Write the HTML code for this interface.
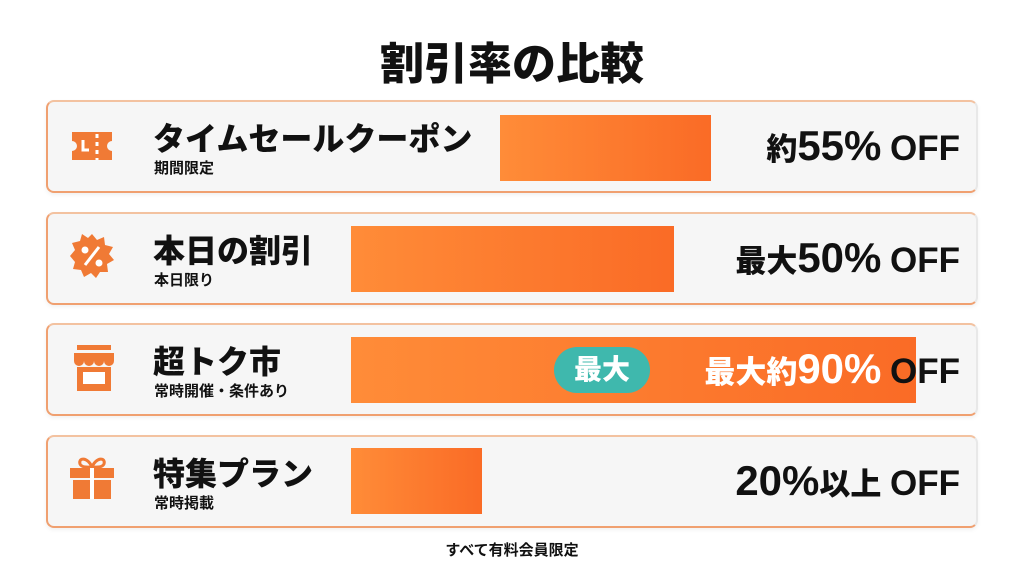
<!DOCTYPE html>
<html><head><meta charset="utf-8"><style>
body{margin:0;width:1024px;height:572px;background:#fff;font-family:"Liberation Sans","Noto Sans CJK JP",sans-serif;position:relative;overflow:hidden}
.t{position:absolute;left:0;width:1024px;top:28px;text-align:center;font-size:44px;font-weight:900;color:#111}
.card{position:absolute;left:46px;width:928px;height:89px;background:#f6f6f6;border:2px solid #f0a070;border-top-color:#f3c2a0;border-right-color:#e8e8e8;border-radius:8px;box-shadow:0 2px 4px rgba(0,0,0,.06)}
.bar{position:absolute;background:linear-gradient(90deg,#ff8c38,#fa6b26)}
.n{position:absolute;left:105px;top:12px;font-size:32px;font-weight:900;color:#111;white-space:nowrap}
.s{position:absolute;left:106px;top:55px;font-size:15px;font-weight:700;color:#111;white-space:nowrap}
.v{position:absolute;right:16px;top:20px;font-weight:900;color:#111;white-space:nowrap;font-size:31px}
.v b{font-size:42px;font-weight:900}
.v i{font-style:normal;font-size:35px;font-weight:900}
.ic{position:absolute;left:22px;top:26px}
.f{position:absolute;left:0;width:1024px;top:539px;text-align:center;font-size:15px;font-weight:700;color:#111}
</style></head><body>
<div class="t">割引率の比較</div>

<div class="card" style="top:100px">
<svg class="ic" width="44" height="40" viewBox="0 0 44 40"><path d="M2 4h40v9a5 5 0 0 0 0 10v9H2v-9a5 5 0 0 0 0-10z" fill="#f07a35"/><path d="M13 12v10h6" stroke="#fff" stroke-width="3" fill="none"/><path d="M27 6v26" stroke="#fff" stroke-width="3" stroke-dasharray="4 4"/></svg>
<div class="n">タイムセールクーポン</div><div class="s">期間限定</div>
<div class="bar" style="left:452px;top:13px;width:211px;height:66px"></div>
<div class="v">約<b>55%</b> <i>OFF</i></div></div>

<div class="card" style="top:212px">
<svg class="ic" width="44" height="44" viewBox="0 0 44 44" style="top:20px"><polygon points="22,0 27,6 34,3 35,11 43,13 39,20 44,26 37,30 38,38 30,38 26,44 21,39 14,43 11,36 3,35 5,28 0,22 5,16 2,9 10,7 12,0 18,4" fill="#f07a35"/><circle cx="15" cy="16" r="3.5" fill="#fff"/><circle cx="29" cy="29" r="3.5" fill="#fff"/><path d="M29 13L15 31" stroke="#fff" stroke-width="3"/></svg>
<div class="n">本日の割引</div><div class="s">本日限り</div>
<div class="bar" style="left:303px;top:12px;width:323px;height:66px"></div>
<div class="v">最大<b>50%</b> <i>OFF</i></div></div>

<div class="card" style="top:323px">
<svg class="ic" width="40" height="46" viewBox="0 0 40 46" style="top:20px;left:26px"><rect x="3" y="0" width="34" height="5" fill="#f07a35"/><path d="M0 8h40v8a5 5 0 0 1-10 0a5 5 0 0 1-10 0a5 5 0 0 1-10 0a5 5 0 0 1-10 0z" fill="#f07a35"/><path d="M3 22v24h34V22" fill="#f07a35"/><rect x="9" y="27" width="22" height="12" fill="#fff"/></svg>
<div class="n">超トク市</div><div class="s">常時開催・条件あり</div>
<div class="bar" style="left:303px;top:12px;width:565px;height:66px"></div>
<div style="position:absolute;left:506px;top:22px;width:96px;height:46px;border-radius:23px;background:#3fb8ad;color:#fff;font-size:28px;font-weight:900;text-align:center;line-height:46px">最大</div>
<div class="v" style="color:#fff">最大約<b>90%</b> <i style="color:#111">OFF</i></div></div>

<div class="card" style="top:435px">
<svg class="ic" width="44" height="44" viewBox="0 0 44 44" style="top:18px"><path d="M22 12c-4-10-14-10-12-3 2 4 8 3 12 3c4 0 10 1 12-3 2-7-8-7-12 3z" fill="none" stroke="#f07a35" stroke-width="3"/><rect x="0" y="13" width="44" height="10" fill="#f07a35"/><rect x="3" y="25" width="38" height="19" fill="#f07a35"/><rect x="20" y="13" width="4" height="31" fill="#fff"/></svg>
<div class="n">特集プラン</div><div class="s">常時掲載</div>
<div class="bar" style="left:303px;top:11px;width:131px;height:66px"></div>
<div class="v"><b>20%</b>以上 <i>OFF</i></div></div>

<div class="f">すべて有料会員限定</div>
</body></html>
